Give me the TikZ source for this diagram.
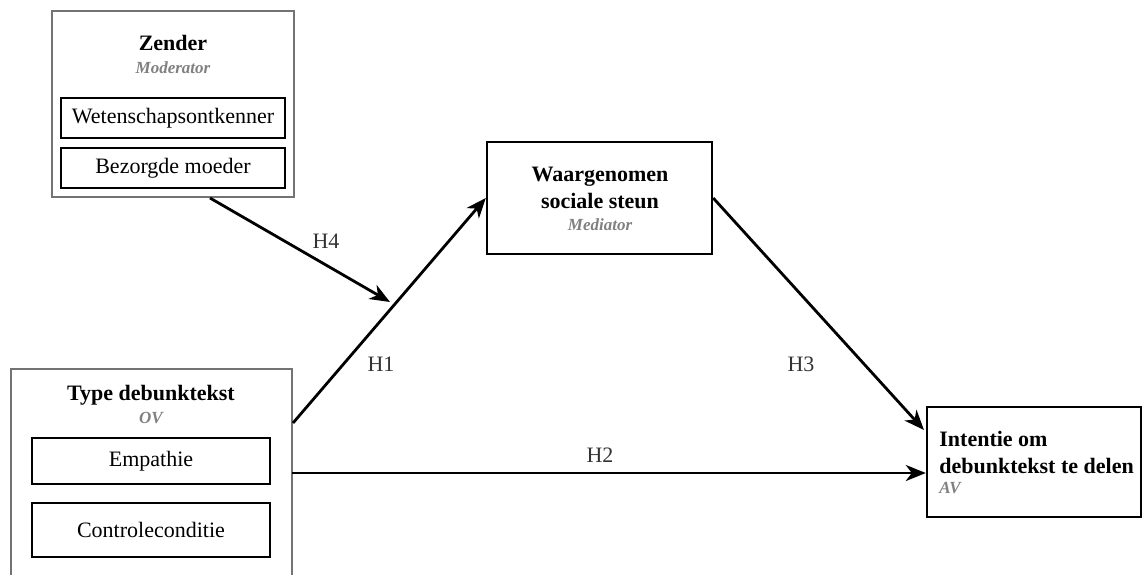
\documentclass[tikz,border=0pt]{standalone}
\usepackage{fontspec}
\setmainfont{Liberation Serif}
\usetikzlibrary{arrows.meta,positioning}

\tikzset{
  groupbox/.style={draw=black!55, line width=0.9pt, fill=white, inner sep=0pt},
  levelbox/.style={draw=black, line width=1.1pt, inner sep=0pt, font=\fontsize{11}{13}\selectfont},
  varbox/.style={draw=black, line width=1.2pt, inner sep=0pt},
  vartitle/.style={font=\fontsize{11}{13.5}\selectfont\bfseries, align=center, inner sep=0pt},
  rolelabel/.style={font=\fontsize{8.5}{10}\selectfont\bfseries\itshape, text=black!50, inner sep=0pt},
  hyparrow/.style={-{Stealth[length=10pt,width=8pt,inset=3pt]}, line width=1.4pt},
  hyplabel/.style={font=\fontsize{11}{13}\selectfont, text=black!80}
}

\begin{document}
\begin{tikzpicture}[x=0.5pt,y=-0.5pt]
  \useasboundingbox (0,0) rectangle (1144,574);
  \clip (0,0) rectangle (1144,574);

  % --- Moderator (top left) ---
  \node[groupbox, minimum width=121pt, minimum height=93pt] (zender) at (173,104) {};
  \node[vartitle] (zendertitle) at (173,43) {Zender};
  \node[rolelabel] (zenderrole) at (173,68) {Moderator};
  \node[levelbox, minimum width=112pt, minimum height=20pt] (ontkenner) at (173,118) {Wetenschapsontkenner};
  \node[levelbox, minimum width=112pt, minimum height=20pt] (moeder) at (173,168) {Bezorgde moeder};

  % --- OV (bottom left, runs off the page) ---
  \node[groupbox, minimum width=140.5pt, minimum height=125.5pt] (debunk) at (151.5,494.5) {};
  \node[vartitle] (debunktitle) at (151,395) {Type debunktekst};
  \node[rolelabel] (debunkrole) at (151,418) {OV};
  \node[levelbox, minimum width=119pt, minimum height=23pt] (empathie) at (151,461) {Empathie};
  \node[levelbox, minimum width=119pt, minimum height=27pt] (controle) at (151,530) {Controleconditie};

  % --- Mediator ---
  \node[varbox, minimum width=112.5pt, minimum height=56pt] (steun) at (599.5,198) {};
  \node[vartitle] (steuntitle) at (600,188) {Waargenomen\\sociale steun};
  \node[rolelabel] (steunrole) at (600,225) {Mediator};

  % --- AV ---
  \node[varbox, minimum width=107pt, minimum height=55pt] (intentie) at (1034,462) {};
  \node[vartitle, align=left, anchor=west] (intentietitle) at (939,452) {Intentie om\\debunktekst te delen};
  \node[rolelabel, anchor=west] (intentierole) at (939,488) {AV};

  % --- Hypotheses ---
  \coordinate (h1from) at (293,423);
  \coordinate (h2from) at (292,473);
  \coordinate (h3to) at (924,430);
  \coordinate (h4from) at (210,198);
  \coordinate (h4to) at (390,302);
  \draw[hyparrow] (h1from) -- (steun.west);
  \draw[hyparrow] (h2from) -- (h2from -| intentie.west);
  \draw[hyparrow] (steun.east) -- (h3to);
  \draw[hyparrow] (h4from) -- (h4to);

  \node[hyplabel] (lblh1) at (381,364) {H1};
  \node[hyplabel] (lblh2) at (600,455) {H2};
  \node[hyplabel] (lblh3) at (801,364) {H3};
  \node[hyplabel] (lblh4) at (326,241) {H4};
\end{tikzpicture}
\end{document}
